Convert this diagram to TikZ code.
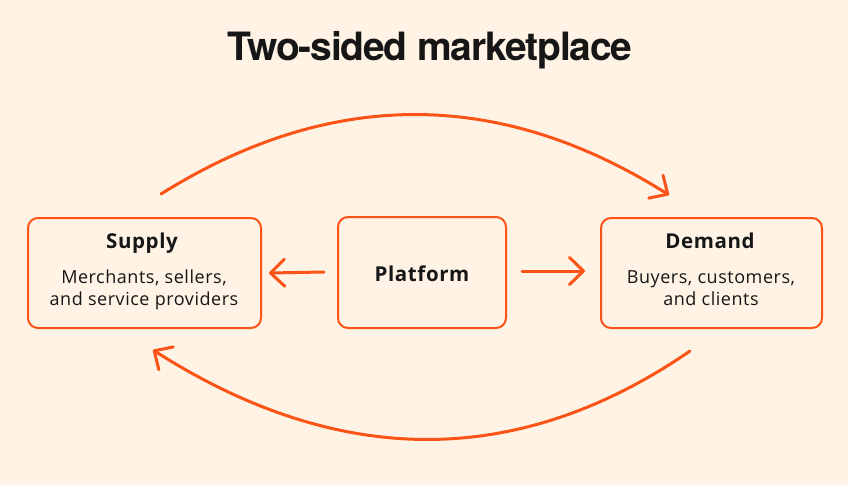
\documentclass[tikz,border=0pt]{standalone}
\usepackage{fontspec}
\setmainfont{Open Sans}[LetterSpace=3]
\newfontfamily\titlefont[LetterSpace=-3]{TeX Gyre Heros}
\usetikzlibrary{arrows.meta}
\definecolor{bgc}{RGB}{255,243,229}
\definecolor{orng}{RGB}{252,84,23}
\definecolor{ink}{RGB}{22,22,22}
\tikzset{
  box/.style={draw=orng, line width=2pt, rounded corners=10pt, rectangle, inner sep=0pt},
  arr/.style={draw=orng, line width=3pt, line cap=round,
    -{Straight Barb[length=14pt,width=27pt,round]}},
  head/.style={font=\fontsize{20.5}{24}\selectfont\bfseries, text=ink, anchor=base},
  body/.style={font=\fontsize{18}{22}\selectfont, text=ink, anchor=base},
}
\begin{document}
\begin{tikzpicture}[x=1pt,y=-1pt]
\fill[bgc] (0,0) rectangle (848,485);
\useasboundingbox (0,0) rectangle (848,485);
\node[anchor=base, text=ink, font=\titlefont\fontsize{39}{42}\selectfont\bfseries] (title) at (430,60) {Two-sided marketplace};
\node[box, minimum width=233pt, minimum height=110pt] (supply) at (144.5,273) {};
\node[box, minimum width=168pt, minimum height=111pt] (platform) at (422,272.5) {};
\node[box, minimum width=221pt, minimum height=110pt] (demand) at (711.5,273) {};
\node[head] (supplyh) at (142,248) {Supply};
\node[body] (supply1) at (144,283) {Merchants, sellers,};
\node[body] (supply2) at (144,305) {and service providers};
\node[head] (platformh) at (422,281) {Platform};
\node[head] (demandh) at (710,248) {Demand};
\node[body] (demand1) at (711,283) {Buyers, customers,};
\node[body] (demand2) at (711,305) {and clients};
\draw[arr] ([xshift=-13pt,yshift=0.5pt]platform.west) -- ([xshift=7pt]supply.east);
\draw[arr] ([xshift=15pt,yshift=1.5pt]platform.east) -- ([xshift=-15pt,yshift=2pt]demand.west);
\coordinate (ctop1) at (330.3,88);
\coordinate (ctop2) at (499.7,88.3);
\coordinate (cbot1) at (518.3,469);
\coordinate (cbot2) at (339.3,468.7);
\draw[arr] ([xshift=16.5pt,yshift=23pt]supply.north) .. controls (ctop1) and (ctop2) .. ([xshift=-42.5pt,yshift=22pt]demand.north);
\draw[arr] ([xshift=-21.5pt,yshift=-22pt]demand.south) .. controls (cbot1) and (cbot2) .. ([xshift=8.5pt,yshift=-21pt]supply.south);
\end{tikzpicture}
\end{document}
